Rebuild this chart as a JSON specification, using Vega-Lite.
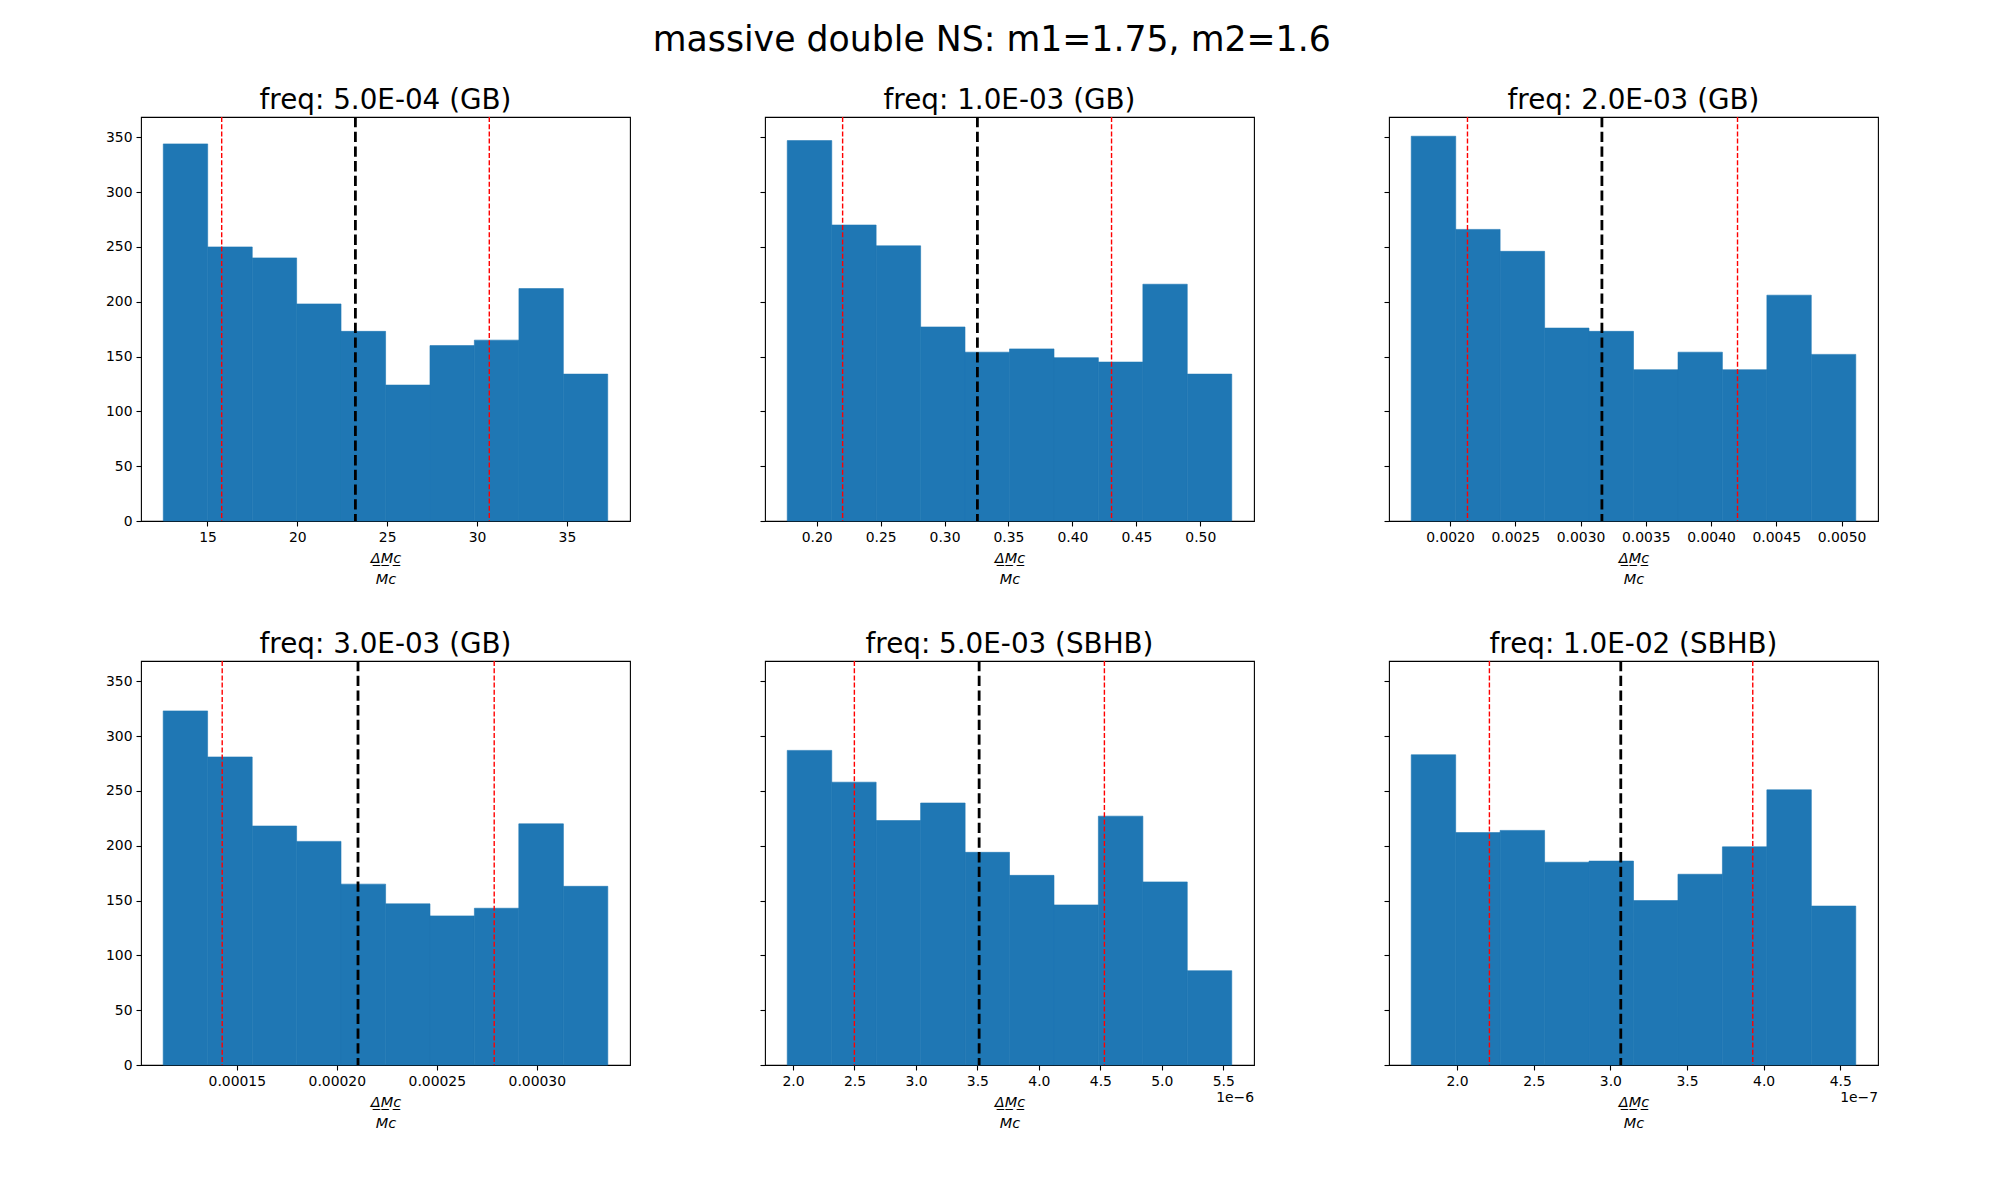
{
  "$schema": "https://vega.github.io/schema/vega-lite/v6.json",
  "background": "white",
  "padding": {"left": 104, "top": 22, "right": 20, "bottom": 20},
  "title": {"text": "massive double NS: m1=1.75, m2=1.6", "fontSize": 34.7, "anchor": "middle", "offset": 28},
  "datasets": {
    "p1": [
      {"x0": 12.54, "x1": 15.01, "n": 344}, {"x0": 15.01, "x1": 17.49, "n": 250},
      {"x0": 17.49, "x1": 19.96, "n": 240}, {"x0": 19.96, "x1": 22.43, "n": 198},
      {"x0": 22.43, "x1": 24.91, "n": 173}, {"x0": 24.91, "x1": 27.38, "n": 124},
      {"x0": 27.38, "x1": 29.85, "n": 160}, {"x0": 29.85, "x1": 32.33, "n": 165},
      {"x0": 32.33, "x1": 34.80, "n": 212}, {"x0": 34.80, "x1": 37.27, "n": 134}
    ],
    "p1red": [{"v": 15.79}, {"v": 30.68}],
    "p1mean": [{"v": 23.23}],
    "p2": [
      {"x0": 0.1770, "x1": 0.2118, "n": 347}, {"x0": 0.2118, "x1": 0.2465, "n": 270},
      {"x0": 0.2465, "x1": 0.2813, "n": 251}, {"x0": 0.2813, "x1": 0.3160, "n": 177},
      {"x0": 0.3160, "x1": 0.3508, "n": 154}, {"x0": 0.3508, "x1": 0.3856, "n": 157},
      {"x0": 0.3856, "x1": 0.4203, "n": 149}, {"x0": 0.4203, "x1": 0.4551, "n": 145},
      {"x0": 0.4551, "x1": 0.4898, "n": 216}, {"x0": 0.4898, "x1": 0.5246, "n": 134}
    ],
    "p2red": [{"v": 0.2203}, {"v": 0.4306}],
    "p2mean": [{"v": 0.3257}],
    "p3": [
      {"x0": 0.001703, "x1": 0.002044, "n": 351}, {"x0": 0.002044, "x1": 0.002384, "n": 266},
      {"x0": 0.002384, "x1": 0.002725, "n": 246}, {"x0": 0.002725, "x1": 0.003065, "n": 176},
      {"x0": 0.003065, "x1": 0.003406, "n": 173}, {"x0": 0.003406, "x1": 0.003747, "n": 138},
      {"x0": 0.003747, "x1": 0.004087, "n": 154}, {"x0": 0.004087, "x1": 0.004428, "n": 138},
      {"x0": 0.004428, "x1": 0.004768, "n": 206}, {"x0": 0.004768, "x1": 0.005109, "n": 152}
    ],
    "p3red": [{"v": 0.002134}, {"v": 0.004203}],
    "p3mean": [{"v": 0.003164}],
    "p4": [
      {"x0": 0.0001132, "x1": 0.0001354, "n": 323}, {"x0": 0.0001354, "x1": 0.0001577, "n": 281},
      {"x0": 0.0001577, "x1": 0.0001799, "n": 218}, {"x0": 0.0001799, "x1": 0.0002021, "n": 204},
      {"x0": 0.0002021, "x1": 0.0002244, "n": 165}, {"x0": 0.0002244, "x1": 0.0002466, "n": 147},
      {"x0": 0.0002466, "x1": 0.0002688, "n": 136}, {"x0": 0.0002688, "x1": 0.0002910, "n": 143},
      {"x0": 0.0002910, "x1": 0.0003133, "n": 220}, {"x0": 0.0003133, "x1": 0.0003355, "n": 163}
    ],
    "p4red": [{"v": 0.0001427}, {"v": 0.0002787}],
    "p4mean": [{"v": 0.0002106}],
    "p5": [
      {"x0": 1.953e-6, "x1": 2.315e-6, "n": 287}, {"x0": 2.315e-6, "x1": 2.676e-6, "n": 258},
      {"x0": 2.676e-6, "x1": 3.038e-6, "n": 223}, {"x0": 3.038e-6, "x1": 3.400e-6, "n": 239},
      {"x0": 3.400e-6, "x1": 3.761e-6, "n": 194}, {"x0": 3.761e-6, "x1": 4.123e-6, "n": 173},
      {"x0": 4.123e-6, "x1": 4.484e-6, "n": 146}, {"x0": 4.484e-6, "x1": 4.846e-6, "n": 227},
      {"x0": 4.846e-6, "x1": 5.207e-6, "n": 167}, {"x0": 5.207e-6, "x1": 5.569e-6, "n": 86}
    ],
    "p5red": [{"v": 2.499e-6}, {"v": 4.533e-6}],
    "p5mean": [{"v": 3.514e-6}],
    "p5off": [{"v": 5.750e-6, "t": "1e\u22126"}],
    "p6": [
      {"x0": 1.701e-7, "x1": 1.991e-7, "n": 283}, {"x0": 1.991e-7, "x1": 2.281e-7, "n": 212},
      {"x0": 2.281e-7, "x1": 2.571e-7, "n": 214}, {"x0": 2.571e-7, "x1": 2.861e-7, "n": 185},
      {"x0": 2.861e-7, "x1": 3.151e-7, "n": 186}, {"x0": 3.151e-7, "x1": 3.441e-7, "n": 150},
      {"x0": 3.441e-7, "x1": 3.731e-7, "n": 174}, {"x0": 3.731e-7, "x1": 4.021e-7, "n": 199},
      {"x0": 4.021e-7, "x1": 4.311e-7, "n": 251}, {"x0": 4.311e-7, "x1": 4.601e-7, "n": 145}
    ],
    "p6red": [{"v": 2.211e-7}, {"v": 3.929e-7}],
    "p6mean": [{"v": 3.068e-7}],
    "p6off": [{"v": 4.746e-7, "t": "1e\u22127"}]
  },
  "bounds": "flush",
  "columns": 3,
  "spacing": {"row": 140, "column": 135},
  "concat": [
    {
      "width": 489, "height": 404,
      "title": "freq: 5.0E-04 (GB)",
      "layer": [
        {
          "data": {"name": "p1"},
          "mark": {"type": "rect", "color": "#1f77b4", "stroke": "#1f77b4", "strokeWidth": 0.6},
          "encoding": {
            "x": {"field": "x0", "type": "quantitative", "scale": {"domain": [11.30, 38.51], "nice": false, "zero": false},
                  "axis": {"values": [15, 20, 25, 30, 35], "format": "d", "title": ["\u0394\u0332M\u0332c\u0332", "Mc"]}},
            "x2": {"field": "x1"},
            "y": {"field": "n", "type": "quantitative", "scale": {"domain": [0, 368.55], "nice": false},
                  "axis": {"values": [0, 50, 100, 150, 200, 250, 300, 350], "title": null}},
            "y2": {"datum": 0}
          }
        },
        {
          "data": {"name": "p1red"},
          "mark": {"type": "rule", "color": "red", "strokeWidth": 1.4, "strokeDash": [5, 2.2]},
          "encoding": {"x": {"field": "v", "type": "quantitative"}}
        },
        {
          "data": {"name": "p1mean"},
          "mark": {"type": "rule", "color": "black", "strokeWidth": 2.8, "strokeDash": [10.3, 4.4]},
          "encoding": {"x": {"field": "v", "type": "quantitative"}}
        }
      ]
    },
    {
      "width": 489, "height": 404,
      "title": "freq: 1.0E-03 (GB)",
      "layer": [
        {
          "data": {"name": "p2"},
          "mark": {"type": "rect", "color": "#1f77b4", "stroke": "#1f77b4", "strokeWidth": 0.6},
          "encoding": {
            "x": {"field": "x0", "type": "quantitative", "scale": {"domain": [0.1596, 0.5420], "nice": false, "zero": false},
                  "axis": {"values": [0.20, 0.25, 0.30, 0.35, 0.40, 0.45, 0.50], "format": ".2f", "title": ["\u0394\u0332M\u0332c\u0332", "Mc"]}},
            "x2": {"field": "x1"},
            "y": {"field": "n", "type": "quantitative", "scale": {"domain": [0, 368.55], "nice": false},
                  "axis": {"values": [0, 50, 100, 150, 200, 250, 300, 350], "labels": false, "title": null}},
            "y2": {"datum": 0}
          }
        },
        {
          "data": {"name": "p2red"},
          "mark": {"type": "rule", "color": "red", "strokeWidth": 1.4, "strokeDash": [5, 2.2]},
          "encoding": {"x": {"field": "v", "type": "quantitative"}}
        },
        {
          "data": {"name": "p2mean"},
          "mark": {"type": "rule", "color": "black", "strokeWidth": 2.8, "strokeDash": [10.3, 4.4]},
          "encoding": {"x": {"field": "v", "type": "quantitative"}}
        }
      ]
    },
    {
      "width": 489, "height": 404,
      "title": "freq: 2.0E-03 (GB)",
      "layer": [
        {
          "data": {"name": "p3"},
          "mark": {"type": "rect", "color": "#1f77b4", "stroke": "#1f77b4", "strokeWidth": 0.6},
          "encoding": {
            "x": {"field": "x0", "type": "quantitative", "scale": {"domain": [0.0015327, 0.0052793], "nice": false, "zero": false},
                  "axis": {"values": [0.0020, 0.0025, 0.0030, 0.0035, 0.0040, 0.0045, 0.0050], "format": ".4f", "title": ["\u0394\u0332M\u0332c\u0332", "Mc"]}},
            "x2": {"field": "x1"},
            "y": {"field": "n", "type": "quantitative", "scale": {"domain": [0, 368.55], "nice": false},
                  "axis": {"values": [0, 50, 100, 150, 200, 250, 300, 350], "labels": false, "title": null}},
            "y2": {"datum": 0}
          }
        },
        {
          "data": {"name": "p3red"},
          "mark": {"type": "rule", "color": "red", "strokeWidth": 1.4, "strokeDash": [5, 2.2]},
          "encoding": {"x": {"field": "v", "type": "quantitative"}}
        },
        {
          "data": {"name": "p3mean"},
          "mark": {"type": "rule", "color": "black", "strokeWidth": 2.8, "strokeDash": [10.3, 4.4]},
          "encoding": {"x": {"field": "v", "type": "quantitative"}}
        }
      ]
    },
    {
      "width": 489, "height": 404,
      "title": "freq: 3.0E-03 (GB)",
      "layer": [
        {
          "data": {"name": "p4"},
          "mark": {"type": "rect", "color": "#1f77b4", "stroke": "#1f77b4", "strokeWidth": 0.6},
          "encoding": {
            "x": {"field": "x0", "type": "quantitative", "scale": {"domain": [0.0001021, 0.0003466], "nice": false, "zero": false},
                  "axis": {"values": [0.00015, 0.00020, 0.00025, 0.00030], "format": ".5f", "title": ["\u0394\u0332M\u0332c\u0332", "Mc"]}},
            "x2": {"field": "x1"},
            "y": {"field": "n", "type": "quantitative", "scale": {"domain": [0, 368.55], "nice": false},
                  "axis": {"values": [0, 50, 100, 150, 200, 250, 300, 350], "title": null}},
            "y2": {"datum": 0}
          }
        },
        {
          "data": {"name": "p4red"},
          "mark": {"type": "rule", "color": "red", "strokeWidth": 1.4, "strokeDash": [5, 2.2]},
          "encoding": {"x": {"field": "v", "type": "quantitative"}}
        },
        {
          "data": {"name": "p4mean"},
          "mark": {"type": "rule", "color": "black", "strokeWidth": 2.8, "strokeDash": [10.3, 4.4]},
          "encoding": {"x": {"field": "v", "type": "quantitative"}}
        }
      ]
    },
    {
      "width": 489, "height": 404,
      "title": "freq: 5.0E-03 (SBHB)",
      "layer": [
        {
          "data": {"name": "p5"},
          "mark": {"type": "rect", "color": "#1f77b4", "stroke": "#1f77b4", "strokeWidth": 0.6},
          "encoding": {
            "x": {"field": "x0", "type": "quantitative", "scale": {"domain": [1.772e-6, 5.750e-6], "nice": false, "zero": false},
                  "axis": {"values": [2.0e-6, 2.5e-6, 3.0e-6, 3.5e-6, 4.0e-6, 4.5e-6, 5.0e-6, 5.5e-6], "labelExpr": "format(datum.value * 1e6, '.1f')", "title": ["\u0394\u0332M\u0332c\u0332", "Mc"]}},
            "x2": {"field": "x1"},
            "y": {"field": "n", "type": "quantitative", "scale": {"domain": [0, 368.55], "nice": false},
                  "axis": {"values": [0, 50, 100, 150, 200, 250, 300, 350], "labels": false, "title": null}},
            "y2": {"datum": 0}
          }
        },
        {
          "data": {"name": "p5red"},
          "mark": {"type": "rule", "color": "red", "strokeWidth": 1.4, "strokeDash": [5, 2.2]},
          "encoding": {"x": {"field": "v", "type": "quantitative"}}
        },
        {
          "data": {"name": "p5mean"},
          "mark": {"type": "rule", "color": "black", "strokeWidth": 2.8, "strokeDash": [10.3, 4.4]},
          "encoding": {"x": {"field": "v", "type": "quantitative"}}
        },
        {
          "data": {"name": "p5off"},
          "mark": {"type": "text", "align": "right", "baseline": "middle", "dy": 33, "fontSize": 13.9, "color": "black"},
          "encoding": {"x": {"field": "v", "type": "quantitative"}, "y": {"datum": 0}, "text": {"field": "t"}}
        }
      ]
    },
    {
      "width": 489, "height": 404,
      "title": "freq: 1.0E-02 (SBHB)",
      "layer": [
        {
          "data": {"name": "p6"},
          "mark": {"type": "rect", "color": "#1f77b4", "stroke": "#1f77b4", "strokeWidth": 0.6},
          "encoding": {
            "x": {"field": "x0", "type": "quantitative", "scale": {"domain": [1.556e-7, 4.746e-7], "nice": false, "zero": false},
                  "axis": {"values": [2.0e-7, 2.5e-7, 3.0e-7, 3.5e-7, 4.0e-7, 4.5e-7], "labelExpr": "format(datum.value * 1e7, '.1f')", "title": ["\u0394\u0332M\u0332c\u0332", "Mc"]}},
            "x2": {"field": "x1"},
            "y": {"field": "n", "type": "quantitative", "scale": {"domain": [0, 368.55], "nice": false},
                  "axis": {"values": [0, 50, 100, 150, 200, 250, 300, 350], "labels": false, "title": null}},
            "y2": {"datum": 0}
          }
        },
        {
          "data": {"name": "p6red"},
          "mark": {"type": "rule", "color": "red", "strokeWidth": 1.4, "strokeDash": [5, 2.2]},
          "encoding": {"x": {"field": "v", "type": "quantitative"}}
        },
        {
          "data": {"name": "p6mean"},
          "mark": {"type": "rule", "color": "black", "strokeWidth": 2.8, "strokeDash": [10.3, 4.4]},
          "encoding": {"x": {"field": "v", "type": "quantitative"}}
        },
        {
          "data": {"name": "p6off"},
          "mark": {"type": "text", "align": "right", "baseline": "middle", "dy": 33, "fontSize": 13.9, "color": "black"},
          "encoding": {"x": {"field": "v", "type": "quantitative"}, "y": {"datum": 0}, "text": {"field": "t"}}
        }
      ]
    }
  ],
  "config": {
    "font": "DejaVu Sans",
    "view": {"stroke": "black", "strokeWidth": 1.1},
    "axis": {
      "grid": false,
      "domain": false,
      "tickColor": "black",
      "tickSize": 5,
      "tickWidth": 1.1,
      "labelColor": "black",
      "labelFont": "DejaVu Sans",
      "labelFontSize": 13.9,
      "labelPadding": 4,
      "labelFlush": false,
      "labelOverlap": false,
      "titleColor": "black",
      "titleFont": "DejaVu Sans",
      "titleFontSize": 14.5,
      "titleFontWeight": "normal",
      "titleFontStyle": "italic",
      "titlePadding": 8,
      "titleLineHeight": 21
    },
    "title": {"font": "DejaVu Sans", "fontSize": 27.8, "fontWeight": "normal", "color": "black", "offset": 1}
  }
}
